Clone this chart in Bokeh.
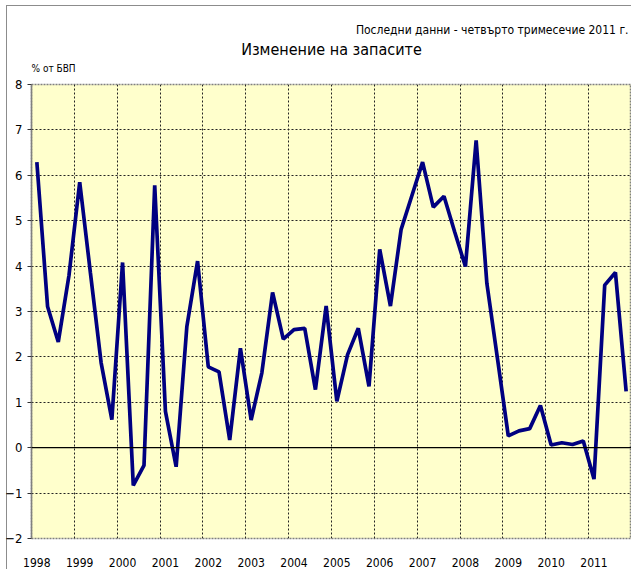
from bokeh.plotting import figure
from bokeh.models import FixedTicker, Span, Range1d, Title
from bokeh.embed import file_html
from bokeh.resources import INLINE

FONT = "DejaVu Sans Condensed, Liberation Sans Narrow, Liberation Sans, sans-serif"

years = [str(y) for y in range(1998, 2012)]
quarters = [f"{y} Q{q}" for y in years for q in range(1, 5)]
values = [6.29, 3.11, 2.33, 3.80,
          5.85, 3.85, 1.87, 0.62,
          4.08, -0.83, -0.39, 5.78,
          0.80, -0.42, 2.67, 4.11,
          1.78, 1.67, 0.17, 2.19,
          0.61, 1.65, 3.42, 2.39,
          2.60, 2.63, 1.28, 3.12,
          1.02, 2.05, 2.63, 1.35,
          4.37, 3.12, 4.81, 5.55,
          6.29, 5.30, 5.54, 4.75,
          3.99, 6.77, 3.62, 1.95,
          0.26, 0.37, 0.42, 0.93,
          0.06, 0.11, 0.07, 0.15,
          -0.69, 3.58, 3.86, 1.24]
y_ticks = list(range(-2, 9))

title_text = "Изменение на запасите"
subtitle_text = "Последни данни - четвърто тримесечие 2011 г."
unit_text = "% от БВП"

x = list(range(len(quarters)))
n = len(quarters)

p = figure(width=631, height=569, output_backend="svg", toolbar_location=None,
           title=None,
           x_range=Range1d(-0.5, n - 0.5), y_range=Range1d(y_ticks[0], y_ticks[-1]),
           min_border_left=31, min_border_right=0, min_border_top=84, min_border_bottom=30)
p.background_fill_color = "#FFFFCC"
p.border_fill_color = None
p.styles = {
    "background": "linear-gradient(#8c8c8c, #8c8c8c) 6px 5px / 1px 100% no-repeat, "
                  "linear-gradient(#8c8c8c, #8c8c8c) 6px 5px / 100% 1px no-repeat, white"
}
p.outline_line_color = "#808080"
p.outline_line_dash = "2 1"
p.outline_line_width = 1.5

# grids
p.ygrid.ticker = FixedTicker(ticks=y_ticks)
p.ygrid.grid_line_color = "#222222"
p.ygrid.grid_line_dash = "2 2"
p.ygrid.grid_line_width = 1
p.xgrid.ticker = FixedTicker(ticks=[i * 4 - 0.5 for i in range(1, len(years))])
p.xgrid.grid_line_color = "#222222"
p.xgrid.grid_line_dash = "2 2"
p.xgrid.grid_line_width = 1

# axes
p.yaxis.ticker = FixedTicker(ticks=y_ticks)
p.yaxis.axis_line_color = "#808080"
p.yaxis.axis_line_width = 1.5
p.yaxis.major_tick_line_color = "#333333"
p.yaxis.major_tick_out = 4
p.yaxis.major_tick_in = 0
p.yaxis.minor_tick_line_color = None
p.yaxis.major_label_standoff = 5
p.yaxis.major_label_text_font = FONT
p.yaxis.major_label_text_font_size = "13px"
p.yaxis.major_label_text_color = "black"

p.xaxis.ticker = FixedTicker(ticks=[i * 4 for i in range(len(years))])
p.xaxis.major_label_overrides = {i * 4: y for i, y in enumerate(years)}
p.xaxis.axis_line_color = None
p.xaxis.major_tick_line_color = None
p.xaxis.minor_tick_line_color = None
p.xaxis.major_label_standoff = 13
p.xaxis.major_label_text_font = FONT
p.xaxis.major_label_text_font_size = "12px"
p.xaxis.major_label_text_color = "black"

p.add_layout(Span(location=0, dimension="width", line_color="black", line_width=1.2))

p.line(x, values, line_color="#000080", line_width=3.7)

# texts above the plot: first added is closest to the frame
p.add_layout(Title(text=unit_text, align="left", text_font=FONT, text_font_size="10px",
                   text_font_style="normal", text_color="black", standoff=21), "above")
p.add_layout(Title(text=title_text, align="center", text_font=FONT, text_font_size="16px",
                   text_font_style="normal", text_color="black", standoff=-17), "above")
p.add_layout(Title(text=subtitle_text, align="right", offset=3, text_font=FONT,
                   text_font_size="12px", text_font_style="normal", text_color="black",
                   standoff=20), "above")

open("out.html", "w").write(file_html(p, INLINE))
